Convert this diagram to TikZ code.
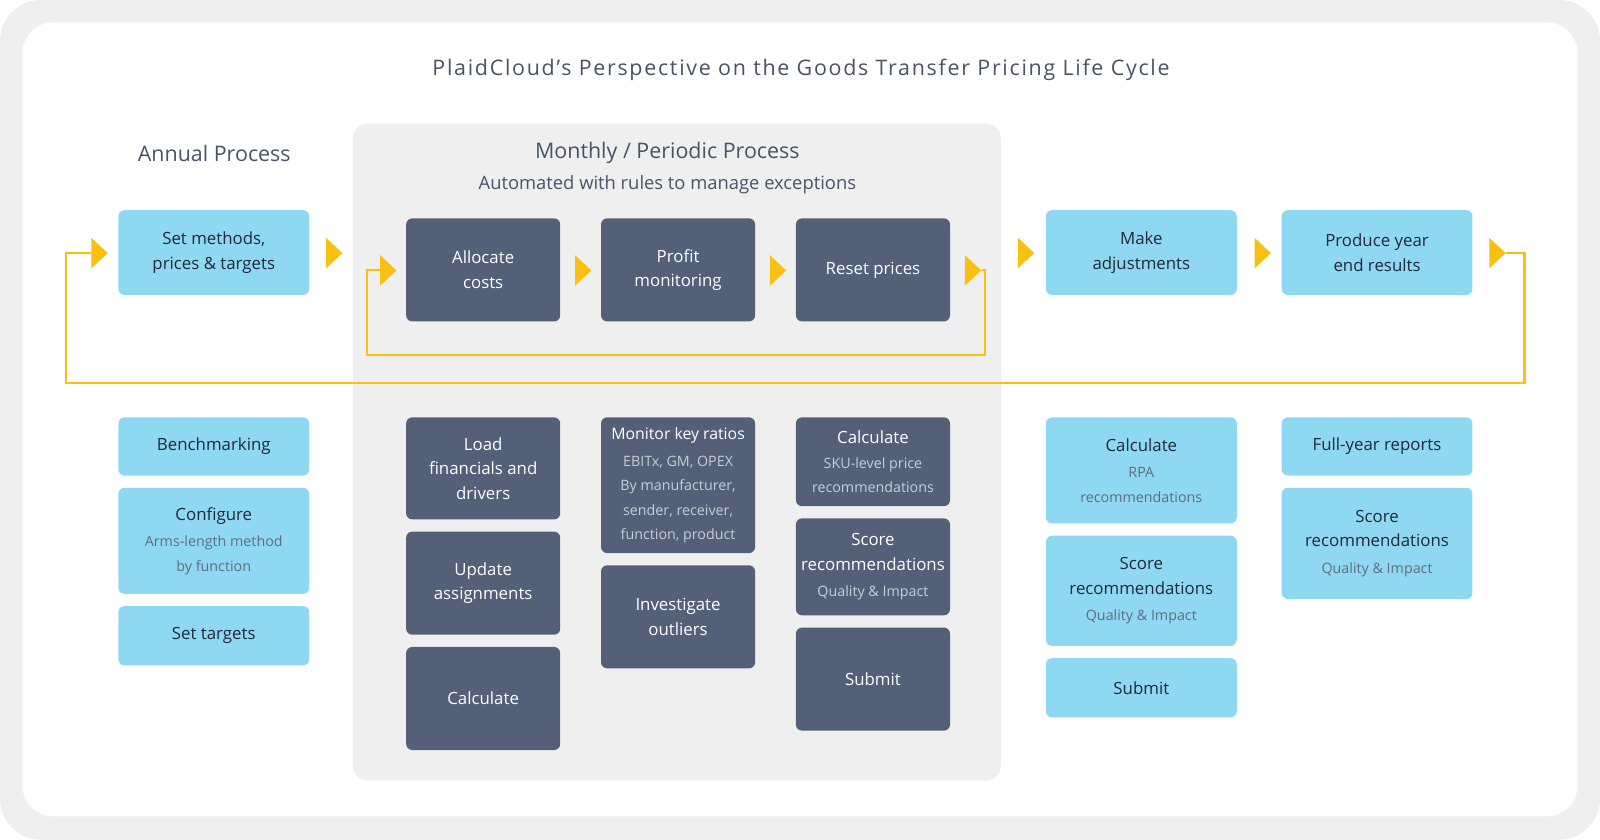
\documentclass[tikz,border=0pt]{standalone}
\usepackage{fontspec}
\setmainfont{Open Sans}
\usetikzlibrary{shapes.geometric}
\definecolor{lblue}{HTML}{8FD8F2}
\definecolor{dbox}{HTML}{536078}
\definecolor{ylw}{HTML}{F9C012}
\definecolor{txt}{HTML}{1F2937}
\definecolor{subg}{HTML}{5E6E7E}
\definecolor{subw}{HTML}{C8CDD8}
\definecolor{head}{HTML}{4A5366}
\definecolor{pnl}{HTML}{EFEFEF}
\newcommand{\fmain}{\fontsize{16.5}{24}\selectfont}
\newcommand{\fsb}{\fontsize{14}{20}\selectfont}
\begin{document}
\begin{tikzpicture}[x=1pt,y=-1pt,
 lb/.style={fill=lblue,rounded corners=6pt,align=center,text=txt,font=\fmain,inner sep=0pt,minimum width=187pt},
 db/.style={fill=dbox,rounded corners=6pt,align=center,text=white,font=\fmain,inner sep=0pt,minimum width=151pt},
 tri/.style={isosceles triangle,isosceles triangle stretches,fill=ylw,inner sep=0pt,minimum width=30pt,minimum height=16pt},
 yl/.style={draw=ylw,line width=2pt}]
\fill[pnl,rounded corners=40pt] (0,0) rectangle (1568,823);
\fill[white,rounded corners=30pt] (22,22) rectangle (1546,800);
\useasboundingbox (0,0) rectangle (1568,823);
\fill[pnl,rounded corners=15pt] (346,121) rectangle (981,765);
\node[text=head,font=\fontsize{21}{26}\selectfont\addfontfeature{LetterSpace=8}] (title) at (785,68) {PlaidCloud’s Perspective on the Goods Transfer Pricing Life Cycle};
\node[text=head,font=\fontsize{21}{26}\selectfont] (annual) at (210,150) {Annual Process};
\node[text=head,font=\fontsize{21}{26}\selectfont] (monthly) at (654,150) {Monthly / Periodic Process};
\node[text=head,font=\fontsize{18}{22}\selectfont] (auto) at (654,181) {Automated with rules to manage exceptions};
% top row
\node[lb,minimum height=83pt] (set) at (209.5,247.5) {Set methods,\\prices \& targets};
\node[lb,minimum height=83pt] (make) at (1118.5,247.5) {Make\\adjustments};
\node[lb,minimum height=83pt] (prod) at (1349.5,247.5) {Produce year\\end results};
\node[db,minimum height=101pt] (alloc) at (473.5,264.5) {Allocate\\costs};
\node[db,minimum height=101pt] (profit) at (664.5,264.5) {Profit\\monitoring};
\node[db,minimum height=101pt] (reset) at (855.5,264.5) {Reset prices};
% triangles
\node[tri] (t1) at (96,248) {};
\node[tri] (t2) at (326,248) {};
\node[tri] (t3) at (379,265) {};
\node[tri] (t4) at (570,265) {};
\node[tri] (t5) at (761,265) {};
\node[tri] (t6) at (952,265) {};
\node[tri] (t7) at (1004,248) {};
\node[tri] (t8) at (1236,248) {};
\node[tri] (t9) at (1466,248) {};
\coordinate (i1) at (965,265); \coordinate (i2) at (965,348);
\coordinate (i3) at (360,348); \coordinate (i4) at (360,265);
\draw[yl] (t6.east) -- (i1) -- (i2) -- (i3) -- (i4) -- (t3.west);
\coordinate (o1) at (1494,248); \coordinate (o2) at (1494,375);
\coordinate (o3) at (65,375); \coordinate (o4) at (65,248);
\draw[yl] (t9.east) -- (o1) -- (o2) -- (o3) -- (o4) -- (t1.west);
% annual column
\node[lb,minimum height=57pt] (bench) at (209.5,437.5) {Benchmarking};
\node[lb,minimum height=104pt] (conf) at (209.5,530) {Configure\\[2pt]{\fsb\color{subg}Arms-length method}\\{\fsb\color{subg}by function}};
\node[lb,minimum height=58pt] (targ) at (209.5,623) {Set targets};
% monthly
\node[db,minimum height=100pt] (load) at (473.5,459) {Load\\financials and\\drivers};
\node[db,minimum height=101pt] (upd) at (473.5,571.5) {Update\\assignments};
\node[db,minimum height=101pt] (calc1) at (473.5,684.5) {Calculate};
\node[db,minimum height=133pt] (mon) at (664.5,475.5) {\fontsize{15.5}{22}\selectfont Monitor key ratios\\[2pt]{\fsb\color{subw}EBITx, GM, OPEX}\\{\fsb\color{subw}By manufacturer,}\\{\fsb\color{subw}sender, receiver,}\\{\fsb\color{subw}function, product}};
\node[db,minimum height=101pt] (inv) at (664.5,604.5) {Investigate\\outliers};
\node[db,minimum height=87pt] (sku) at (855.5,452.5) {Calculate\\{\fsb\color{subw}SKU-level price}\\{\fsb\color{subw}recommendations}};
\node[db,minimum height=95pt] (score1) at (855.5,555.5) {Score\\recommendations\\[2pt]{\fsb\color{subw}Quality \& Impact}};
\node[db,minimum height=101pt] (sub1) at (855.5,665.5) {Submit};
% adjustments column
\node[lb,minimum height=104pt] (rpa) at (1118.5,461) {Calculate\\[2pt]{\fsb\color{subg}RPA}\\{\fsb\color{subg}recommendations}};
\node[lb,minimum height=108pt] (score2) at (1118.5,579) {Score\\recommendations\\[2pt]{\fsb\color{subg}Quality \& Impact}};
\node[lb,minimum height=58pt] (sub2) at (1118.5,674) {Submit};
% year end column
\node[lb,minimum height=57pt] (full) at (1349.5,437.5) {Full-year reports};
\node[lb,minimum height=109pt] (score3) at (1349.5,532.5) {Score\\recommendations\\[2pt]{\fsb\color{subg}Quality \& Impact}};
\end{tikzpicture}
\end{document}
